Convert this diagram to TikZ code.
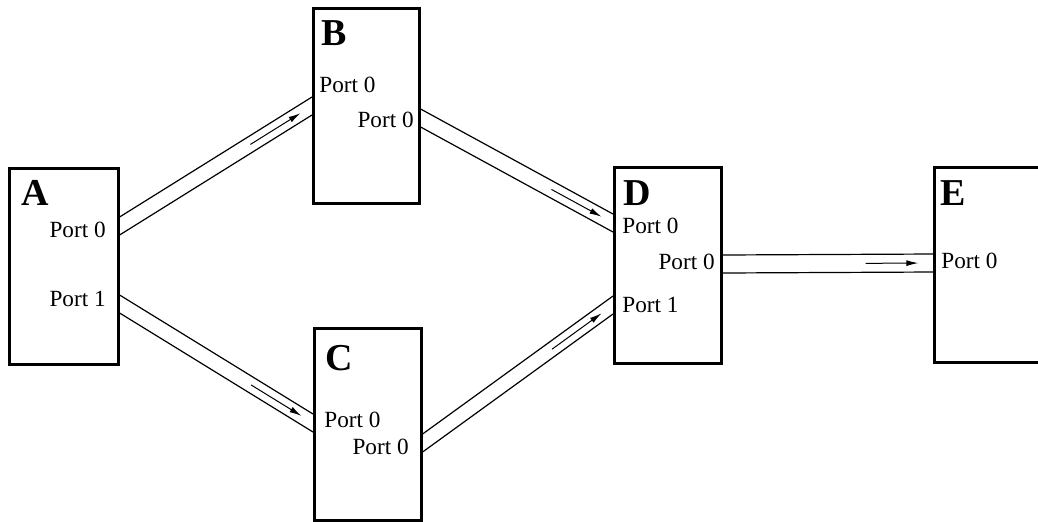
\documentclass[tikz,border=0pt]{standalone}
\usepackage{fontspec}
\setmainfont{Liberation Serif}
\usetikzlibrary{calc,arrows.meta}

\begin{document}
\begin{tikzpicture}[x=0.5pt,y=-0.5pt,
    boxunit/.style={draw,line width=1.3pt,inner sep=0pt,anchor=north west},
    unitname/.style={font=\fontsize{19}{22}\selectfont\bfseries,inner sep=0pt,anchor=base west},
    portin/.style={font=\fontsize{11.6}{14}\selectfont,inner sep=0pt,anchor=base west},
    portout/.style={font=\fontsize{11.6}{14}\selectfont,inner sep=0pt,anchor=base east},
    chan/.style={line width=0.6pt},
    flow/.style={line width=0.5pt,-{Latex[length=6pt,width=3pt]}}]
            \useasboundingbox (0,0) rectangle (1038,521);

            % units
            \node (A) at (8,167) [boxunit,minimum width=54.5pt,minimum height=98pt] {};
            \node (B) at (312,7) [boxunit,minimum width=53pt,minimum height=97.5pt] {};
            \node (C) at (313,327) [boxunit,minimum width=53.5pt,minimum height=96pt] {};
            \node (D) at (613,166) [boxunit,minimum width=53.5pt,minimum height=98pt] {};
            \node (E) at (933,166) [boxunit,minimum width=56pt,minimum height=97.5pt] {};

            \node (A-name) at (21,205) [unitname] {A};
            \node (B-name) at (321,45) [unitname] {B};
            \node (C-name) at (325,370) [unitname] {C};
            \node (D-name) at (623,205) [unitname] {D};
            \node (E-name) at (940,205) [unitname] {E};

            % port labels
            \node (A-p0) at (106,237) [portout] {Port 0};
            \node (A-p1) at (106,306) [portout] {Port 1};
            \node (B-pi) at (319,92) [portin] {Port 0};
            \node (B-po) at (414,127) [portout] {Port 0};
            \node (C-pi) at (324,427) [portin] {Port 0};
            \node (C-po) at (409,454) [portout] {Port 0};
            \node (D-pi0) at (622,233) [portin] {Port 0};
            \node (D-pi1) at (622,312) [portin] {Port 1};
            \node (D-po) at (715,269) [portout] {Port 0};
            \node (E-pi) at (941,268) [portin] {Port 0};

            % channel ends
            \coordinate (A-o0) at ($(A.north east)+(0,59)$);
            \coordinate (A-o1) at ($(A.north east)+(0,137)$);
            \coordinate (B-i0) at ($(B.north west)+(0,99)$);
            \coordinate (B-o0) at ($(B.north east)+(0,111)$);
            \coordinate (C-i0) at ($(C.north west)+(0,96)$);
            \coordinate (C-o0) at ($(C.north east)+(0,116)$);
            \coordinate (D-i0) at ($(D.north west)+(0,57)$);
            \coordinate (D-i1) at ($(D.north west)+(0,139)$);
            \coordinate (D-o0) at ($(D.north east)+(0,98)$);
            \coordinate (E-i0) at ($(E.north west)+(0,97)$);

            \draw[chan] ($(A-o0)+(0,-9)$) -- ($(B-i0)+(0,-9)$) ($(A-o0)+(0,9)$) -- ($(B-i0)+(0,9)$);
            \draw[chan] ($(A-o1)+(0,-9)$) -- ($(C-i0)+(0,-9)$) ($(A-o1)+(0,9)$) -- ($(C-i0)+(0,9)$);
            \draw[chan] ($(B-o0)+(0,-9)$) -- ($(D-i0)+(0,-9)$) ($(B-o0)+(0,9)$) -- ($(D-i0)+(0,9)$);
            \draw[chan] ($(C-o0)+(0,-9)$) -- ($(D-i1)+(0,-9)$) ($(C-o0)+(0,9)$) -- ($(D-i1)+(0,9)$);
            \draw[chan] ($(D-o0)+(0,-9)$) -- ($(E-i0)+(0,-9)$) ($(D-o0)+(0,9)$) -- ($(E-i0)+(0,9)$);

            \draw[flow] ($(A-o0)!0.68!(B-i0)$) -- ($(A-o0)!0.94!(B-i0)$);
            \draw[flow] ($(A-o1)!0.68!(C-i0)$) -- ($(A-o1)!0.94!(C-i0)$);
            \draw[flow] ($(B-o0)!0.68!(D-i0)$) -- ($(B-o0)!0.94!(D-i0)$);
            \draw[flow] ($(C-o0)!0.68!(D-i1)$) -- ($(C-o0)!0.94!(D-i1)$);
            \draw[flow] ($(D-o0)!0.68!(E-i0)$) -- ($(D-o0)!0.93!(E-i0)$);
            
        \end{tikzpicture}
\end{document}
